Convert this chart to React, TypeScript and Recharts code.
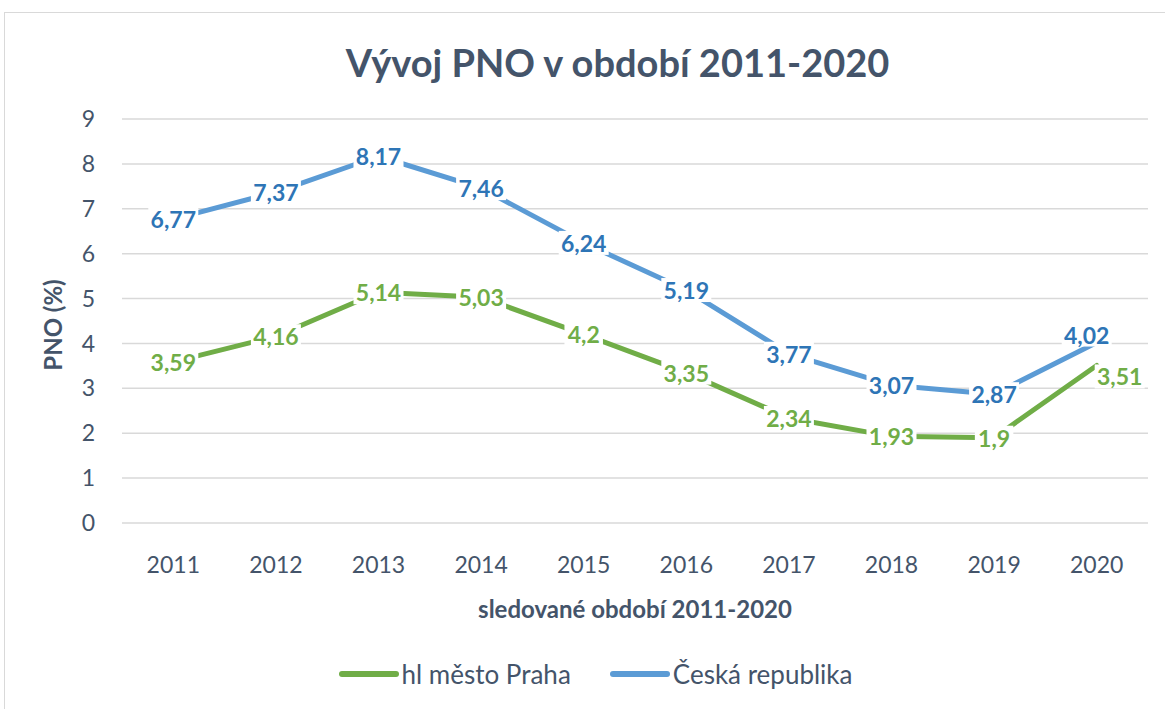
import React from 'react';
import { LineChart, Line, XAxis, YAxis, CartesianGrid, Legend, LabelList } from 'recharts';

const years = ['2011', '2012', '2013', '2014', '2015', '2016', '2017', '2018', '2019', '2020'];
const prahaValues = [3.59, 4.16, 5.14, 5.03, 4.2, 3.35, 2.34, 1.93, 1.9, 3.51];
const crValues = [6.77, 7.37, 8.17, 7.46, 6.24, 5.19, 3.77, 3.07, 2.87, 4.02];
const yTicks = [0, 1, 2, 3, 4, 5, 6, 7, 8, 9];
const bandEdges = [0, 1, 2, 3, 4, 5, 6, 7, 8, 9, 10];

const titleText = 'Vývoj PNO v období 2011-2020';
const xAxisTitle = 'sledované období 2011-2020';
const yAxisTitle = 'PNO (%)';
const prahaName = 'hl město Praha';
const crName = 'Česká republika';

const FONT = 'Lato, "Noto Sans", sans-serif';
const TEXT = '#44546A';
const GRID = '#D9D9D9';
const GREEN = '#70AD47';
const BLUE = '#5B9BD5';
const BLUE_LABEL = '#2E75B6';

const data = years.map((y, i) => ({ year: y, praha: prahaValues[i], cr: crValues[i] }));

// Excel nudged a couple of labels to avoid overlap
const labelNudge: Record<string, Record<number, [number, number]>> = {
  praha: { 9: [23, 11] },
  cr: { 9: [-10, -8] },
};

const makeLabel = (series: string, color: string) => (props: any) => {
  const { x, y, value, index } = props;
  if (x == null || y == null) return null;
  const text = String(value).replace('.', ',');
  const n = labelNudge[series]?.[index] ?? [0, 0];
  const cx = x + n[0];
  const cy = y + n[1];
  const w = text.length * 11.5 + 4;
  const h = 24;
  return (
    <g>
      <rect x={cx - w / 2} y={cy - h / 2} width={w} height={h} fill="#ffffff" />
      <text
        x={cx}
        y={cy}
        textAnchor="middle"
        dominantBaseline="central"
        fill={color}
        fontSize={23}
        fontWeight={700}
        fontFamily={FONT}
      >
        {text}
      </text>
    </g>
  );
};

const renderLegend = (props: any) => {
  const payload = (props.payload || []).filter((p: any) => p.type !== 'none');
  return (
    <div
      style={{
        display: 'flex',
        justifyContent: 'center',
        alignItems: 'center',
        gap: 38,
        height: 40,
        paddingLeft: 25,
        fontFamily: FONT,
        fontSize: 26,
        color: TEXT,
      }}
    >
      {payload.map((p: any) => (
        <div key={p.value} style={{ display: 'flex', alignItems: 'center' }}>
          <svg width={62} height={12} style={{ marginRight: 2 }}>
            <line x1={4} y1={6} x2={58} y2={6} stroke={p.color} strokeWidth={6} strokeLinecap="round" />
          </svg>
          <span>{p.value}</span>
        </div>
      ))}
    </div>
  );
};

export default function App() {
  return (
    <div
      style={{
        position: 'absolute',
        left: 0,
        top: 0,
        width: 1165,
        height: 709,
        overflow: 'hidden',
        background: '#ffffff',
      }}
    >
      <div
        style={{
          position: 'absolute',
          left: 4,
          top: 12,
          width: 1200,
          height: 800,
          border: `1.5px solid ${GRID}`,
          boxSizing: 'border-box',
        }}
      />
      <div
        style={{
          position: 'absolute',
          left: 0,
          top: 40,
          width: 1235,
          textAlign: 'center',
          fontFamily: FONT,
          fontWeight: 700,
          fontSize: 38,
          color: TEXT,
          lineHeight: '44px',
        }}
      >
        {titleText}
      </div>
      <div style={{ position: 'absolute', left: 0, top: 0 }}>
        <LineChart
          width={1165}
          height={709}
          data={data}
          margin={{ top: 119, right: 17, left: 62, bottom: 56 }}
        >
          <CartesianGrid horizontal vertical={false} stroke={GRID} strokeWidth={1.5} />
          <XAxis
            xAxisId={0}
            type="number"
            domain={[0, 10]}
            allowDataOverflow
            ticks={bandEdges}
            height={0}
            tickSize={9}
            tickFormatter={() => ''}
            axisLine={{ stroke: GRID, strokeWidth: 1.5 }}
            tickLine={{ stroke: GRID, strokeWidth: 1.5 }}
          />
          <XAxis
            xAxisId={1}
            dataKey="year"
            scale="band"
            height={90}
            axisLine={false}
            tickLine={false}
            tickSize={0}
            tickMargin={34}
            tick={{ fill: TEXT, fontSize: 23, fontFamily: FONT }}
            interval={0}
            label={(props: any) => {
              const vb = props.viewBox;
              return (
                <text
                  x={vb.x + vb.width / 2}
                  y={vb.y + 95}
                  textAnchor="middle"
                  fill={TEXT}
                  fontSize={24}
                  fontWeight={700}
                  fontFamily={FONT}
                >
                  {xAxisTitle}
                </text>
              );
            }}
          />
          <YAxis
            width={60}
            domain={[0, 9]}
            ticks={yTicks}
            axisLine={false}
            tickLine={false}
            tickSize={0}
            tickMargin={27}
            tick={{ fill: TEXT, fontSize: 23, fontFamily: FONT }}
            label={(props: any) => {
              const vb = props.viewBox;
              const cx = vb.x - 10;
              const cy = vb.y + vb.height / 2 + 4;
              return (
                <text
                  x={cx}
                  y={cy}
                  transform={`rotate(-90 ${cx} ${cy})`}
                  textAnchor="middle"
                  dominantBaseline="central"
                  fill={TEXT}
                  fontSize={24}
                  fontWeight={700}
                  fontFamily={FONT}
                >
                  {yAxisTitle}
                </text>
              );
            }}
          />
          <Legend
            verticalAlign="bottom"
            content={renderLegend}
            wrapperStyle={{ top: 654, bottom: 'auto', left: 0, width: 1165 }}
          />
          <Line
            xAxisId={1}
            dataKey="praha"
            name={prahaName}
            stroke={GREEN}
            strokeWidth={5}
            strokeLinejoin="round"
            strokeLinecap="round"
            dot={false}
            activeDot={false}
            isAnimationActive={false}
          />
          <Line
            xAxisId={1}
            dataKey="cr"
            name={crName}
            stroke={BLUE}
            strokeWidth={5}
            strokeLinejoin="round"
            strokeLinecap="round"
            dot={false}
            activeDot={false}
            isAnimationActive={false}
          />
          <Line
            xAxisId={1}
            dataKey="praha"
            stroke="none"
            legendType="none"
            dot={false}
            activeDot={false}
            isAnimationActive={false}
          >
            <LabelList dataKey="praha" content={makeLabel('praha', GREEN)} />
          </Line>
          <Line
            xAxisId={1}
            dataKey="cr"
            stroke="none"
            legendType="none"
            dot={false}
            activeDot={false}
            isAnimationActive={false}
          >
            <LabelList dataKey="cr" content={makeLabel('cr', BLUE_LABEL)} />
          </Line>
        </LineChart>
      </div>
    </div>
  );
}
